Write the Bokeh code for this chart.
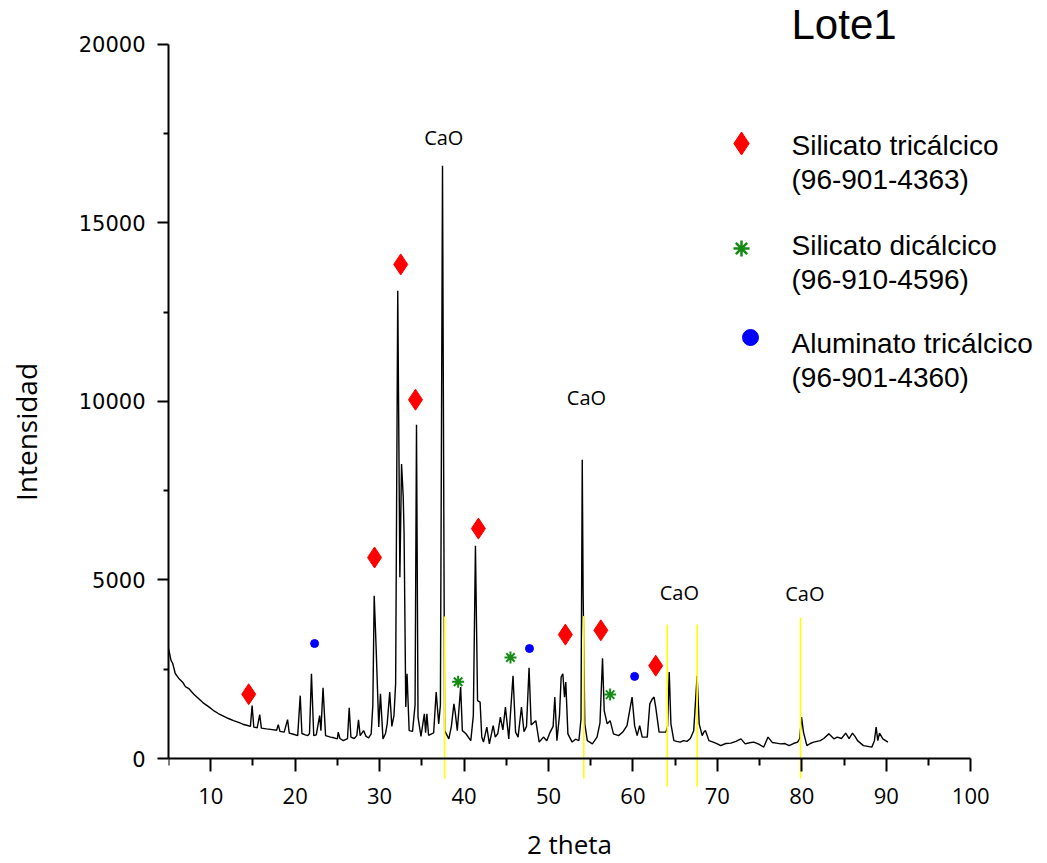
from bokeh.plotting import figure
from bokeh.models import Range1d, FixedTicker
from bokeh.embed import file_html
from bokeh.resources import INLINE
from bokeh.core.properties import value

# ---------------- data ----------------
two_theta = [
    5.0, 5.1, 5.3, 5.5, 5.8, 6.2, 6.7, 7.0, 7.4, 8.0, 8.55, 9.1, 9.7, 10.3, 10.9,
    11.5, 12.1, 12.7, 13.3, 13.8, 14.36, 14.7, 14.9, 15.1, 15.5, 15.8, 16.0, 16.6,
    17.3, 17.8, 18.0, 18.2, 18.7, 19.1, 19.3, 19.8, 20.3, 20.6, 20.8, 21.2, 21.5,
    21.7, 21.93, 22.2, 22.5, 22.9, 23.05, 23.3, 23.6, 24.2, 24.6, 25.0, 25.1, 25.3,
    25.7, 26.2, 26.4, 26.6, 27.0, 27.3, 27.5, 27.7, 28.1, 28.4, 28.7, 29.0, 29.2,
    29.36, 29.5, 29.6, 29.9, 30.1, 30.4, 30.7, 30.9, 31.2, 31.45, 31.7, 31.9, 32.15,
    32.4, 32.6, 32.8, 32.9, 33.1, 33.25, 33.5, 33.9, 34.2, 34.37, 34.55, 34.9, 35.3,
    35.45, 35.6, 35.8, 36.4, 36.7, 37.0, 37.2, 37.45, 37.7, 38.2, 38.5, 38.8, 38.95,
    39.2, 39.6, 39.8, 40.2, 40.8, 41.1, 41.35, 41.6, 41.9, 42.1, 42.3, 42.7, 43.0,
    43.45, 43.7, 44.0, 44.3, 44.6, 44.9, 45.3, 45.8, 46.1, 46.4, 46.8, 47.1, 47.4,
    47.7, 47.95, 48.5, 48.9, 49.4, 49.8, 50.2, 50.55, 50.75, 51.0, 51.3, 51.5, 51.7,
    51.9, 52.05, 52.3, 52.8, 53.2, 53.6, 53.85, 54.0, 54.1, 54.3, 54.6, 55.2, 55.75,
    56.1, 56.4, 56.6, 56.95, 57.3, 57.7, 58.3, 58.8, 59.3, 59.9, 60.2, 60.5, 60.8,
    61.1, 61.7, 62.0, 62.3, 62.5, 62.7, 63.1, 63.5, 63.9, 64.1, 64.3, 64.5, 64.85,
    65.2, 65.6, 66.0, 66.4, 66.8, 67.2, 67.6, 67.85, 68.2, 68.4, 68.6, 69.0, 69.5,
    70.0, 70.4, 71.0, 71.6, 72.2, 72.8, 73.3, 73.8, 74.3, 74.9, 75.5, 76.0, 76.5,
    77.0, 77.5, 78.0, 78.5, 79.0, 79.5, 79.75, 79.97, 80.2, 80.6, 81.0, 81.4, 81.8,
    82.2, 82.6, 83.2, 83.8, 84.2, 84.7, 85.2, 85.6, 86.0, 86.3, 86.6, 87.3, 87.8,
    88.3, 88.6, 88.8, 89.0, 89.2, 89.6, 90.2,
]
intensity = [
    3080, 2970, 2750, 2660, 2380, 2250, 2130, 2010, 1960, 1800, 1680, 1560, 1460, 1350, 1260,
    1190, 1120, 1060, 1010, 960, 924, 900, 1480, 880, 860, 1230, 850, 830,
    810, 790, 950, 760, 740, 1090, 710, 680, 640, 1760, 700, 660, 640,
    700, 2370, 640, 660, 1200, 780, 1980, 640, 600, 580, 550, 740, 560,
    500, 560, 1420, 600, 560, 640, 1080, 640, 780, 620, 580, 690, 1500,
    4560, 3680, 3020, 880, 1810, 550, 700, 970, 1860, 900, 1200, 2100, 13100,
    5080, 8250, 7320, 6290, 1440, 2370, 780, 760, 1500, 9350, 1160, 620, 1250,
    720, 1250, 650, 720, 1860, 970, 1500, 16600, 780, 550, 900, 1530, 1300,
    780, 2000, 780, 700, 500, 1200, 5960, 1620, 1580, 600, 460, 880, 410,
    920, 600, 700, 1160, 800, 1440, 550, 2320, 740, 600, 1440, 750, 900,
    2540, 940, 1060, 460, 600, 500, 740, 900, 1720, 500, 1200, 2280, 2370,
    1720, 2140, 690, 460, 540, 500, 1100, 8370, 4700, 970, 500, 410, 600,
    1000, 2810, 1340, 970, 1060, 690, 640, 740, 920, 1720, 920, 640, 920,
    600, 600, 1530, 1670, 1720, 1440, 740, 740, 740, 900, 2420, 970, 500,
    480, 460, 500, 480, 560, 780, 2320, 970, 640, 740, 780, 500, 460,
    410, 360, 420, 430, 480, 550, 410, 440, 460, 400, 320, 600, 450,
    430, 410, 420, 360, 420, 460, 560, 1160, 740, 360, 420, 460, 480,
    500, 560, 690, 550, 600, 560, 710, 560, 710, 620, 500, 360, 340,
    320, 500, 880, 500, 710, 550, 460,
]

# phase markers (2theta, marker height)
c3s_theta = [14.5, 29.4, 32.5, 34.25, 41.7, 52.0, 56.2, 62.7]
c3s_mark = [1800, 5630, 13840, 10050, 6440, 3470, 3590, 2600]
c2s_theta = [39.3, 45.5, 57.3]
c2s_mark = [2150, 2830, 1790]
c3a_theta = [22.3, 47.75, 60.2]
c3a_mark = [3220, 3080, 2300]

# CaO reference lines and labels
cao_theta = [37.69, 54.18, 64.06, 67.61, 79.85]
cao_top = [3980, 3990, 3750, 3750, 3950]
cao_bottom = [-560, -560, -784, -784, -560]
cao_label_theta = [37.6, 54.5, 65.5, 80.36]
cao_label_y = [17400, 10110, 4650, 4610]
cao_label = ["CaO", "CaO", "CaO", "CaO"]

legend_names = ["Silicato tricálcico", "Silicato dicálcico", "Aluminato tricálcico"]
legend_codes = ["(96-901-4363)", "(96-910-4596)", "(96-901-4360)"]

x_ticks = [10, 20, 30, 40, 50, 60, 70, 80, 90, 100]
x_minor = [5, 15, 25, 35, 45, 55, 65, 75, 85, 95]
y_ticks = [0, 5000, 10000, 15000, 20000]
y_minor = [2500, 7500, 12500, 17500]

# ---------------- layout helpers (screen px -> data) ----------------
X_PX0, X_PER_PX = 168.0, 1 / 8.444
Y_PX0, Y_PER_PX = 758.0, 28.011


def px_x(px):
    return 5 + (px - X_PX0) * X_PER_PX


def px_y(py):
    return (Y_PX0 - py) * Y_PER_PX


W, H = 1047, 863
p = figure(
    width=W, height=H, output_backend="svg", toolbar_location=None,
    x_range=Range1d(5, px_x(W)), y_range=Range1d(px_y(H), px_y(0)),
    min_border_left=168, min_border_right=0, min_border_top=0, min_border_bottom=0,
)
p.outline_line_color = None
p.xgrid.visible = False
p.ygrid.visible = False
p.background_fill_color = "white"
p.border_fill_color = "white"

# x axis at y = 0
xa = p.xaxis[0]
xa.fixed_location = 0
xa.bounds = (5, 100)
xa.ticker = FixedTicker(ticks=x_ticks, minor_ticks=x_minor)
xa.axis_label = "2 theta"
xa.axis_label_text_font = "Open Sans"
xa.axis_label_text_font_size = "26px"
xa.axis_label_text_font_style = "normal"
xa.axis_label_text_color = "black"
xa.axis_label_standoff = 19
xa.major_label_text_font = "Open Sans"
xa.major_label_text_font_size = "22px"
xa.major_label_text_color = "black"
xa.major_label_standoff = 16

ya = p.yaxis[0]
ya.bounds = (0, 20000)
ya.ticker = FixedTicker(ticks=y_ticks, minor_ticks=y_minor)
ya.axis_label = "Intensidad"
ya.axis_label_text_font = "Open Sans"
ya.axis_label_text_font_size = "28px"
ya.axis_label_text_font_style = "normal"
ya.axis_label_text_color = "black"
ya.axis_label_standoff = 31
ya.major_label_text_font = "DejaVu Sans"
ya.major_label_text_font_size = "21px"
ya.major_label_text_color = "black"
ya.major_label_standoff = 12
ya.major_label_orientation = "horizontal"

for ax, mj, mn in ((xa, 13, 7), (ya, 11, 5)):
    ax.axis_line_width = 2
    ax.axis_line_color = "black"
    ax.major_tick_line_width = 2
    ax.minor_tick_line_width = 2
    ax.major_tick_line_color = "black"
    ax.minor_tick_line_color = "black"
    ax.major_tick_in = 0
    ax.major_tick_out = mj
    ax.minor_tick_in = 0
    ax.minor_tick_out = mn

# diffraction pattern
p.line(two_theta, intensity, line_color="black", line_width=1.4)

# CaO reference lines (drawn on top)
p.segment(x0=cao_theta, y0=cao_bottom, x1=cao_theta, y1=cao_top,
          line_color="#ffff00", line_width=1.6)
p.text(x=cao_label_theta, y=cao_label_y, text=cao_label,
       text_font=value("Open Sans"), text_font_size="20px",
       text_align="center", text_baseline="middle", text_color="black")

# phase markers
p.scatter(c3s_theta, c3s_mark, marker="diamond", size=21,
          fill_color="#ff0000", line_color="#ff0000")
p.scatter(c2s_theta, c2s_mark, marker="asterisk", size=12,
          line_color="#158a15", line_width=2)
p.scatter(c3a_theta, c3a_mark, marker="circle", size=8,
          fill_color="#0000ff", line_color="#0000ff")

# title
p.text(x=[px_x(791)], y=[px_y(24)], text=["Lote1"],
       text_font=value("Liberation Sans"), text_font_size="42px",
       text_align="left", text_baseline="middle", text_color="black")

# legend (custom)
name_mid_px = [145, 245, 343]
code_mid_px = [179, 279, 377]
text_x = px_x(791)
p.text(x=[text_x] * 3, y=[px_y(v) for v in name_mid_px], text=legend_names,
       text_font=value("Liberation Sans"), text_font_size="28px",
       text_align="left", text_baseline="middle", text_color="black")
p.text(x=[text_x] * 3, y=[px_y(v) for v in code_mid_px], text=legend_codes,
       text_font=value("Liberation Sans"), text_font_size="28px",
       text_align="left", text_baseline="middle", text_color="black")
p.scatter([px_x(741)], [px_y(143)], marker="diamond", size=23,
          fill_color="#ff0000", line_color="#ff0000")
p.scatter([px_x(741)], [px_y(248)], marker="asterisk", size=16,
          line_color="#158a15", line_width=2.5)
p.scatter([px_x(750)], [px_y(337)], marker="circle", size=16,
          fill_color="#0000ff", line_color="#0000ff")

open("out.html", "w").write(file_html(p, INLINE))
